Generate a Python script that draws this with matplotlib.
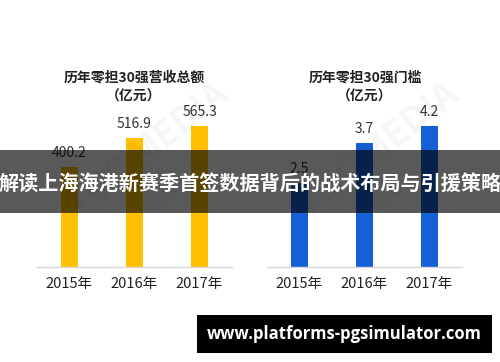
import matplotlib.pyplot as plt
from matplotlib.patches import Rectangle

plt.rcParams['font.family'] = ['Noto Sans CJK SC', 'DejaVu Sans']

# --- data ---
years = ['2015年', '2016年', '2017年']
revenue = [400.2, 516.9, 565.3]      # 历年零担30强营收总额 (亿元)
threshold = [2.5, 3.7, 4.2]          # 历年零担30强门槛 (亿元)
titles = ['历年零担30强营收总额\n（亿元）', '历年零担30强门槛\n（亿元）']
banner = '解读上海海港新赛季首签数据背后的战术布局与引援策略'
site = 'www.platforms-pgsimulator.com'

W, H = 500, 362
fig = plt.figure(figsize=(W / 100, H / 100), dpi=100)
fig.patch.set_facecolor('white')


def px_axes(x0, x1, y_base, height):
    # pixel box (from top-left) -> figure fraction
    return fig.add_axes([x0 / W, (H - y_base) / H, (x1 - x0) / W, height / H])


panels = [
    (37, 232, revenue, 600, '#FFC000', '{:.1f}', titles[0], 134),
    (267, 462, threshold, 4.5, '#1560D6', '{:.1f}', titles[1], 365),
]

for x0, x1, vals, ymax, color, fmt, title, tx in panels:
    scale = 141 / max(vals)
    ax = px_axes(x0, x1, 267, ymax * scale)
    pos = range(len(vals))
    bars = ax.bar(pos, vals, width=0.26, color=color, zorder=2)
    for b, v in zip(bars, vals):
        ax.text(b.get_x() + b.get_width() / 2, v + 14 / scale, fmt.format(v),
                ha='center', va='center', fontsize=10, color='#333333',
                clip_on=False)
    ax.set_xlim(-0.5, 2.5)
    ax.set_ylim(0, ymax)
    ax.set_xticks(list(pos))
    ax.set_xticklabels(years, fontsize=10.5, color='#222222')
    ax.tick_params(length=0, pad=7)
    ax.set_yticks([])
    for s in ['top', 'left', 'right']:
        ax.spines[s].set_visible(False)
    ax.spines['bottom'].set_color('#d8d8d8')
    ax.spines['bottom'].set_linewidth(1)
    ax.patch.set_alpha(0)
    fig.text(tx / W, 1 - 87 / H, title, ha='center', va='center',
             fontsize=10, fontweight='bold', color='#222222', linespacing=1.45)

    # faint watermark
    fig.text((x0 + 110) / W, 1 - 150 / H, 'TUC MEDIA', rotation=38,
             ha='center', va='center', fontsize=26, fontweight='bold',
             color='#000000', alpha=0.04)
    fig.text((x0 + 140) / W, 1 - 185 / H, '运 | 联 | 传 | 媒', rotation=38,
             ha='center', va='center', fontsize=9, color='#000000', alpha=0.06)

# dark banner across the middle
fig.patches.append(Rectangle((0, 1 - 213 / H), 1, 63 / H,
                             transform=fig.transFigure, facecolor='black',
                             alpha=0.65, zorder=5))
fig.text(0.5, 1 - 184 / H, banner, ha='center', va='center', fontsize=14.5,
         fontweight='bold', color='white', zorder=6)

# black site box
fig.patches.append(Rectangle((197 / W, 1 - 353 / H), 295 / W, 38 / H,
                             transform=fig.transFigure, facecolor='black',
                             zorder=5))
fig.text(344 / W, 1 - 334 / H, site, ha='center', va='center',
         fontsize=12, fontweight='bold', color='white',
         family=['Open Sans', 'DejaVu Sans'], zorder=6)

fig.savefig('out.png', dpi=100)
